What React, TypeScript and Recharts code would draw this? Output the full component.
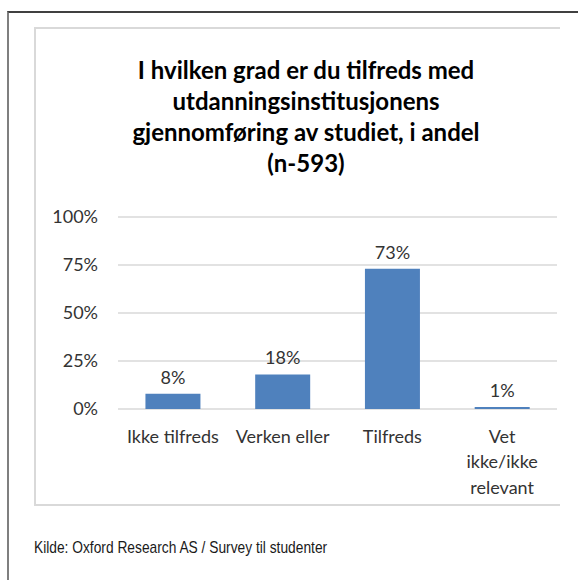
import { BarChart, Bar, XAxis, YAxis, CartesianGrid, LabelList } from "recharts";

const titleLines = [
    "I hvilken grad er du tilfreds med",
    "utdanningsinstitusjonens",
    "gjennomføring av studiet, i andel",
    "(n-593)"
];
const categories = ["Ikke tilfreds", "Verken eller", "Tilfreds", "Vet\nikke/ikke\nrelevant"];
const shares = [8, 18, 73, 1];
const yTicks = [0, 25, 50, 75, 100];
const edgeTicks = [0, 1, 2, 3, 4];
const source = "Kilde: Oxford Research AS / Survey til studenter";

const data = categories.map((category, i) => ({ category, share: shares[i] }));

const font = "Lato, 'Open Sans', sans-serif";
const textColor = "#333333";

function CategoryTick(props: any) {
    const { x, y, payload } = props;
    const lines = String(payload.value).split("\n");
    return (
        <text x={x} y={y} textAnchor="middle" fill={textColor} fontSize={18} fontFamily={font}>
            {lines.map((line, i) => (
                <tspan key={i} x={x} dy={i === 0 ? "0.71em" : 25.5}>{line}</tspan>
            ))}
        </text>
    );
}

export default function App() {
    return (
        <div style={{ position: "absolute", left: 0, top: 0, width: 578, height: 580, background: "#fff", overflow: "hidden" }}>
            <div style={{
                position: "absolute", left: 7, top: 11, width: 600, height: 600,
                borderLeft: "2px solid #7f7f7f", borderTop: "2px solid #404040"
            }}/>
            <div style={{
                position: "absolute", left: 34, top: 27, width: 524, height: 475,
                borderLeft: "2px solid #d9d9d9", borderTop: "2px solid #d9d9d9", borderBottom: "2px solid #d9d9d9"
            }}/>

            <div style={{ position: "absolute", left: 0, top: 0 }}>
                <BarChart width={578} height={520} data={data} margin={{ top: 217, right: 21, left: 0, bottom: 0 }} barCategoryGap="25%">
                    <CartesianGrid vertical={false} stroke="#d9d9d9" strokeWidth={1.5}/>
                    <XAxis
                        xAxisId="edges"
                        type="number"
                        domain={[0, 4]}
                        ticks={edgeTicks}
                        interval={0}
                        height={0}
                        tickSize={6}
                        tickFormatter={() => ""}
                        stroke="#d9d9d9"
                        strokeWidth={1.5}
                    />
                    <XAxis
                        dataKey="category"
                        height={111}
                        axisLine={false}
                        tickLine={false}
                        tickSize={0}
                        tickMargin={21}
                        interval={0}
                        tick={<CategoryTick/>}
                    />
                    <YAxis
                        domain={[0, 100]}
                        ticks={yTicks}
                        width={118}
                        axisLine={false}
                        tickLine={false}
                        tickSize={0}
                        tickMargin={20}
                        tickFormatter={(v: number) => `${v}%`}
                        tick={{ fill: textColor, fontSize: 18, fontFamily: font }}
                    />
                    <Bar dataKey="share" fill="#4f81bd" isAnimationActive={false}>
                        <LabelList
                            dataKey="share"
                            position="top"
                            offset={10}
                            formatter={(v: any) => `${v}%`}
                            fill={textColor}
                            fontSize={18}
                            fontFamily={font}
                        />
                    </Bar>
                </BarChart>
            </div>

            <div style={{
                position: "absolute", left: 34, top: 54, width: 544, textAlign: "center",
                fontFamily: font, fontWeight: 700, fontSize: 24, lineHeight: "31px", color: "#000"
            }}>
                {titleLines.map((line, i) => <div key={i}>{line}</div>)}
            </div>

            <div style={{
                position: "absolute", left: 34, top: 538, whiteSpace: "nowrap",
                fontFamily: "'Liberation Sans', Arial, sans-serif", fontSize: 17, color: "#1a1a1a",
                transform: "scaleX(0.81)", transformOrigin: "left center"
            }}>
                {source}
            </div>
        </div>
    );
}
